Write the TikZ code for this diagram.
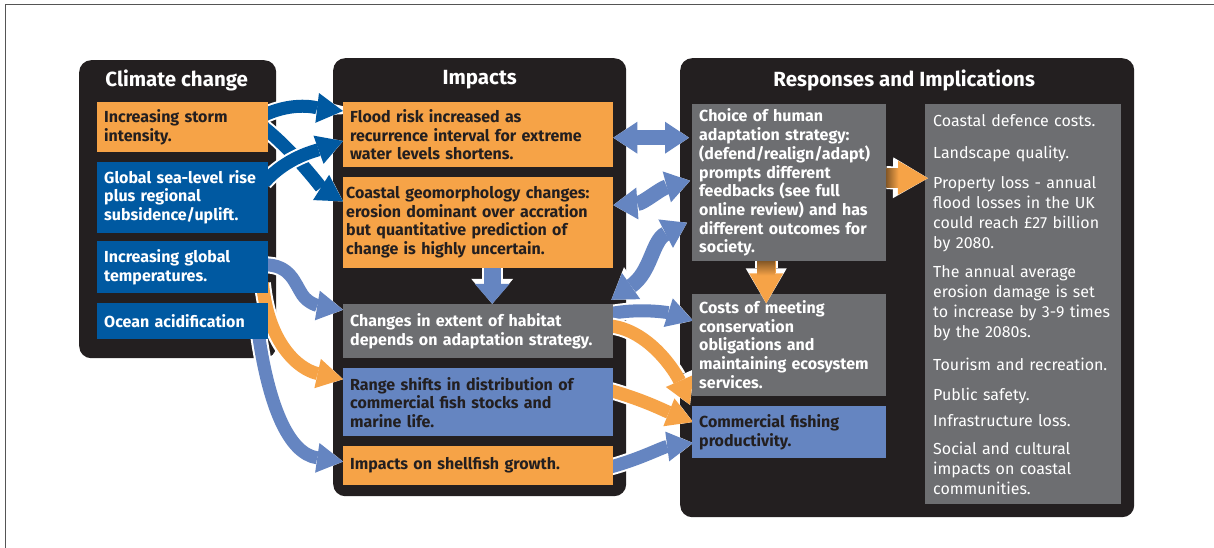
\documentclass[tikz,border=0pt]{standalone}
\usepackage{fontspec}
\setmainfont{Fira Sans}
\usetikzlibrary{arrows.meta,positioning,calc}
\definecolor{cpanel}{HTML}{231F20}
\definecolor{corange}{HTML}{F6A347}
\definecolor{cblue}{HTML}{0059A1}
\definecolor{clight}{HTML}{6585C1}
\definecolor{cgray}{HTML}{6D6E71}
\definecolor{cframe}{HTML}{555555}
\pgfdeclarelayer{panels}
\pgfdeclarelayer{links}
\pgfsetlayers{panels,links,main}
\tikzset{
  panel/.style ={fill=cpanel, rounded corners=12pt, anchor=north west, inner sep=0pt},
  ptitle/.style={font=\fontsize{20.5}{22}\selectfont\bfseries, text=white},
  ibox/.style  ={anchor=north west, inner xsep=7pt, inner ysep=0pt, align=left,
                 font=\fontsize{16}{18.7}\selectfont\bfseries, text=cpanel},
  obox/.style  ={ibox, fill=corange},
  bbox/.style  ={ibox, fill=cblue, text=white},
  lbox/.style  ={ibox, fill=clight},
  gbox/.style  ={ibox, fill=cgray, text=white},
  lcol/.style  ={minimum width=171pt, text width=157pt},
  mcol/.style  ={minimum width=270pt, text width=256pt},
  rcol/.style  ={minimum width=194pt, text width=180pt},
  darr/.style  ={draw=cblue, line width=13pt, -{Triangle[length=26pt,width=30pt,line width=0pt]},
                 preaction={draw=white, line width=17pt, -{Triangle[length=31pt,width=37pt,line width=0pt]}}},
  larr/.style  ={darr, draw=clight},
  oarr/.style  ={darr, draw=corange},
  larr2/.style ={draw=clight, line width=15pt,
                 {Triangle[length=24pt,width=32pt,line width=0pt]}-{Triangle[length=24pt,width=32pt,line width=0pt]},
                 preaction={draw=white, line width=19pt,
                 {Triangle[length=29pt,width=39pt,line width=0pt]}-{Triangle[length=29pt,width=39pt,line width=0pt]}}},
  vdown/.style ={draw=clight, line width=17pt, -{Triangle[length=20pt,width=35pt,line width=0pt]},
                 preaction={draw=white, line width=21pt, -{Triangle[length=25pt,width=42pt,line width=0pt]}}},
  ofat/.style  ={draw=corange, line width=19pt, -{Triangle[length=30pt,width=34pt,line width=0pt]},
                 preaction={draw=white, line width=23pt, -{Triangle[length=35pt,width=41pt,line width=0pt]}}},
}

\begin{document}
\begin{tikzpicture}[x=1pt, y=-1pt]
\useasboundingbox (0,0) rectangle (1214,548);
\draw[cframe, line width=1.6pt] (5.3,548) -- (5.3,4.7) -- (1214,4.7);

% ---- panels ----
\begin{pgfonlayer}{panels}
\node[panel, minimum width=197pt, minimum height=298pt] (climatep) at (79,60) {};
\node[panel, minimum width=293pt, minimum height=438pt] (impactp) at (333,58) {};
\node[panel, minimum width=454pt, minimum height=459pt] (responsep) at (680,58) {};
\end{pgfonlayer}
\node[ptitle] (tclimate) at ($(climatep.north)+(-1,20)$) {Climate change};
\node[ptitle] (timpact) at ($(impactp.north)+(0,22)$) {Impacts};
\node[ptitle] (tresponse) at ($(responsep.north)+(-3,22)$) {Responses and Implications};

% ---- climate change ----
\node[obox, lcol, minimum height=50pt] (storm) at (97,102) {Increasing storm\\intensity.};
\node[bbox, lcol, minimum height=71pt, below=9pt of storm] (sealevel) {Global sea-level rise\\plus regional\\subsidence/uplift.};
\node[bbox, lcol, minimum height=52pt, below=8pt of sealevel] (temps) {Increasing global\\temperatures.};
\node[bbox, lcol, minimum height=36pt, below=10pt of temps] (ocean) {Ocean acidification};

% ---- impacts ----
\node[obox, mcol, minimum height=65pt] (flood) at (343,102) {Flood risk increased as\\recurrence interval for extreme\\water levels shortens.};
\node[obox, mcol, minimum height=91pt, inner xsep=3pt, text width=264pt, below=9pt of flood] (coastal) {Coastal geomorphology changes:\\erosion dominant over accration\\but quantitative prediction of\\change is highly uncertain.};
\node[gbox, mcol, minimum height=54pt, below=36pt of coastal] (habitat) {Changes in extent of habitat\\depends on adaptation strategy.};
\node[lbox, mcol, minimum height=68pt, below=10pt of habitat] (range) {Range shifts in distribution of\\commercial fish stocks and\\marine life.};
\node[obox, mcol, minimum height=39pt, below=9pt of range] (shellfish) {Impacts on shellfish growth.};

% ---- responses ----
\node[gbox, rcol, minimum height=157pt] (choice) at (692,104) {Choice of human\\adaptation strategy:\\(defend/realign/adapt)\\prompts different\\feedbacks (see full\\online review) and has\\different outcomes for\\society.};
\node[gbox, rcol, minimum height=102pt, below=32pt of choice] (costs) {Costs of meeting\\conservation\\obligations and\\maintaining ecosystem\\services.};
\node[lbox, rcol, minimum height=52pt, below=10pt of costs] (fishing) {Commercial fishing\\productivity.};
\node[gbox, minimum width=196pt, text width=180pt, inner xsep=8pt, minimum height=400pt,
      font=\fontsize{16}{20}\selectfont] (list) at (925,104) {Coastal defence costs.\\[12pt]
  Landscape quality.\\[10pt]
  Property loss - annual\\flood losses in the UK\\could reach £27 billion\\by 2080.\\[9pt]
  The annual average\\erosion damage is set\\to increase by 3-9 times\\by the 2080s.\\[13pt]
  Tourism and recreation.\\[10pt]
  Public safety.\\[6pt]
  Infrastructure loss.\\[8pt]
  Social and cultural\\impacts on coastal\\communities.};

% ---- links ----
\begin{pgfonlayer}{links}
\draw[darr] ($(storm.north east)+(-4,26)$) .. controls +(28,22) and +(-22,-14) .. ($(coastal.north west)+(0,25)$);
\draw[darr] ($(storm.north east)+(-4,13)$) .. controls +(30,-14) and +(-25,-3) .. ($(flood.north west)+(0,9)$);
\draw[darr] ($(sealevel.north east)+(-4,21)$) .. controls +(22,-25) and +(-28,10) .. ($(flood.north west)+(0,39)$);
\draw[larr] ($(temps.north east)+(-4,24)$) .. controls +(26,0) and +(-8,-12) .. ++(38,30)
            .. controls +(6,9) and +(-24,-4) .. ($(habitat.north west)+(0,6)$);
\draw[oarr] ($(temps.south east)+(-6,-10)$) .. controls +(6,60) and +(-45,-10) .. ($(range.north west)+(0,11)$);
\draw[larr] ($(ocean.south east)+(-10,-6)$) .. controls +(10,70) and +(-55,-8) .. ($(shellfish.north west)+(0,16)$);
\draw[vdown] ($(coastal.south)+(14,-1)$) -- ($(habitat.north)+(14,0)$);
% middle to right
\draw[larr2] ($(flood.east)+(0,3)$) -- ($(choice.west)+(-3,-45)$);
\draw[larr2] ($(coastal.east)+(0,-17)$) .. controls +(30,-2) and +(-30,8) .. ($(choice.west)+(-2,-2)$);
\draw[larr2] ($(habitat.north east)+(-2,-4)$) .. controls +(40,-28) and +(-35,18) .. ($(choice.west)+(-5,40)$);
\draw[larr] ($(habitat.north east)+(-4,10)$) .. controls +(30,-6) and +(-25,-8) .. ($(costs.west)+(1,-24)$);
\draw[oarr] ($(habitat.north east)+(-4,22)$) .. controls +(40,4) and +(-14,-32) .. ($(fishing.north west)+(-2,-1)$);
\draw[oarr] ($(range.north east)+(-4,22)$) .. controls +(35,10) and +(-30,-12) .. ($(fishing.west)+(1,-10)$);
\draw[larr] ($(shellfish.east)+(-4,2)$) .. controls +(30,-8) and +(-30,4) .. ($(fishing.west)+(1,11)$);
\end{pgfonlayer}

% ---- within responses ----
\draw[ofat] ($(choice.east)+(0,-5)$) -- ($(list.west)+(3,-126)$);
\draw[ofat] ($(choice.south)+(-23,0)$) -- ($(costs.north)+(-23,10)$);
\shade[left color=corange!55!black, right color=corange] ($(choice.east)+(0,-14.5)$) rectangle ($(choice.east)+(12,4.5)$);
\shade[top color=corange!55!black, bottom color=corange] ($(choice.south)+(-32,0)$) rectangle ($(choice.south)+(-14,14)$);

\end{tikzpicture}
\end{document}
